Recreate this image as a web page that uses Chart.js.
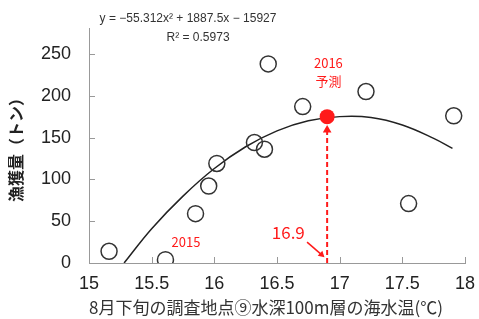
<!DOCTYPE html>
<html>
<head>
<meta charset="utf-8">
<script src="https://cdn.jsdelivr.net/npm/chart.js@4.4.0/dist/chart.umd.min.js"></script>
<style>
  body { margin: 0; background: #fff; }
  #wrap { width: 479px; height: 319px; }
</style>
</head>
<body>
<div id="wrap"><canvas id="myChart"></canvas></div>
<script>
// observed years: water temp (x) vs catch (y)
var obsTemp  = [15.16, 15.61, 15.85, 15.955, 16.02, 16.32, 16.40, 16.43, 16.705, 17.21, 17.55, 17.91];
var obsCatch = [14, 4, 59, 92, 119, 144, 136, 238, 187, 205, 71, 176];

// 2016 prediction
var predTemp = [16.9];
var predCatch = [175];

// trend curve
var trendTemp  = [15.28, 15.5, 15.75, 16, 16.25, 16.5, 16.75, 17, 17.25, 17.5, 17.75, 17.9];
var trendCatch = [0, 41, 80, 113, 139, 158, 170, 175, 174, 165, 149, 137];

// dashed arrow up to the prediction, small arrow pointing to 16.9
var dropTemp = [16.9, 16.9];
var dropCatch = [0, 159];
var pointerTemp = [16.74, 16.855];
var pointerCatch = [25, 10];

var yTicks = [0, 50, 100, 150, 200, 250];
var xTickLabels = ['15', '15.5', '16', '16.5', '17', '17.5', '18'];

function toXY(xs, ys) {
  return xs.map(function (x, i) { return { x: x, y: ys[i] }; });
}

var red = '#ff1a1a';

// inward tick marks + text notes
var notes = {
  id: 'notes',
  afterDraw: function (chart) {
    var ctx = chart.ctx;
    var xs = chart.scales.x, ys = chart.scales.y;
    ctx.save();
    ctx.strokeStyle = '#999';
    ctx.lineWidth = 1;
    ys.ticks.forEach(function (t) {
      var py = Math.round(ys.getPixelForValue(t.value)) + 0.5;
      ctx.beginPath(); ctx.moveTo(xs.left, py); ctx.lineTo(xs.left + 6, py); ctx.stroke();
    });
    xs.ticks.forEach(function (t) {
      var px = Math.round(xs.getPixelForValue(t.value)) + 0.5;
      ctx.beginPath(); ctx.moveTo(px, ys.bottom); ctx.lineTo(px, ys.bottom - 6); ctx.stroke();
    });

    ctx.textAlign = 'center';
    ctx.textBaseline = 'middle';
    ctx.fillStyle = '#333';
    ctx.font = '12px "Liberation Sans", Arial, sans-serif';
    ctx.fillText('y = \u221255.312x\u00b2 + 1887.5x \u2212 15927', xs.getPixelForValue(15.79), ys.getPixelForValue(292));
    ctx.fillText('R\u00b2 = 0.5973', xs.getPixelForValue(15.87), ys.getPixelForValue(269));

    ctx.fillStyle = red;
    ctx.font = '13px "Noto Sans CJK JP", sans-serif';
    ctx.fillText('2015', xs.getPixelForValue(15.774), ys.getPixelForValue(25));
    ctx.fillText('2016', xs.getPixelForValue(16.91), ys.getPixelForValue(239));
    ctx.fillText('予測', xs.getPixelForValue(16.91), ys.getPixelForValue(217));
    ctx.font = '17px "Noto Sans CJK JP", sans-serif';
    ctx.fillText('16.9', xs.getPixelForValue(16.59), ys.getPixelForValue(37));
    ctx.restore();
  }
};

new Chart('myChart', {
  type: 'scatter',
  data: {
    datasets: [{
      data: toXY(obsTemp, obsCatch),
      pointRadius: 8,
      borderWidth: 1.5,
      borderColor: '#333',
      backgroundColor: 'rgba(255,255,255,0)',
      order: 1
    }, {
      data: toXY(predTemp, predCatch),
      pointRadius: 7.5,
      borderWidth: 0,
      backgroundColor: red,
      order: 0
    }, {
      type: 'line',
      data: toXY(trendTemp, trendCatch),
      borderColor: '#222',
      borderWidth: 1.5,
      tension: 0.4,
      pointRadius: 0,
      fill: false,
      order: 3
    }, {
      type: 'line',
      data: toXY(dropTemp, dropCatch),
      borderColor: red,
      borderWidth: 2,
      borderDash: [5, 3],
      pointRadius: [0, 5],
      pointStyle: 'triangle',
      pointBackgroundColor: red,
      pointBorderWidth: 0,
      fill: false,
      order: 2
    }, {
      type: 'line',
      data: toXY(pointerTemp, pointerCatch),
      borderColor: red,
      borderWidth: 1.5,
      pointRadius: [0, 4],
      pointStyle: 'triangle',
      pointRotation: 132,
      pointBackgroundColor: red,
      pointBorderWidth: 0,
      fill: false,
      order: 2
    }]
  },
  options: {
    responsive: true,
    maintainAspectRatio: false,
    animation: false,
    layout: { padding: { top: 27, right: 14, left: 0, bottom: 0 } },
    plugins: { legend: { display: false }, tooltip: { enabled: false } },
    scales: {
      x: {
        type: 'linear',
        min: 15, max: 18,
        ticks: {
          stepSize: 0.5, color: '#222', padding: 10,
          font: { size: 18, family: '"Liberation Sans", Arial, sans-serif' },
          callback: function (v, i) { return xTickLabels[i]; }
        },
        grid: { display: false, drawTicks: false },
        border: { color: '#999' },
        title: {
          display: true,
          align: 'start',
          text: '8月下旬の調査地点⑨水深100m層の海水温(℃)',
          color: '#333',
          font: { size: 17, family: '"Noto Sans CJK JP", sans-serif' },
          padding: { top: 0, bottom: 1 }
        },
        afterFit: function (s) { s.height = 56; s.paddingRight = 0; s.paddingLeft = 0; }
      },
      y: {
        min: 0, max: 280,
        afterBuildTicks: function (s) { s.ticks = yTicks.map(function (v) { return { value: v }; }); },
        ticks: { color: '#222', padding: 18, font: { size: 18, family: '"Liberation Sans", Arial, sans-serif' } },
        grid: { display: false, drawTicks: false },
        border: { color: '#999' },
        title: {
          display: true,
          text: '漁獲量（トン）',
          color: '#222',
          font: { size: 16, weight: 'bold', family: '"Noto Sans CJK JP", sans-serif' },
          padding: { top: 6, bottom: 0 }
        },
        afterFit: function (s) { s.width = 89; }
      }
    }
  },
  plugins: [notes]
});
</script>
</body>
</html>
